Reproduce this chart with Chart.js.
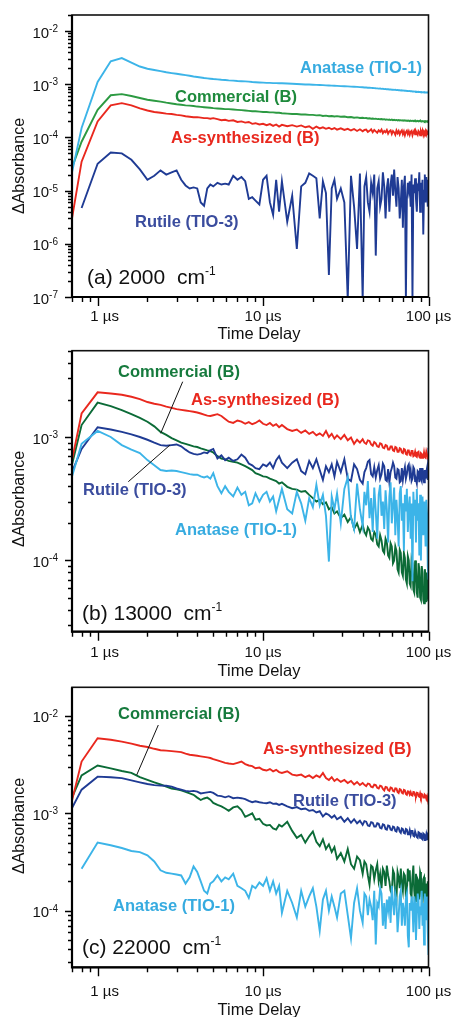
<!DOCTYPE html>
<html>
<head>
<meta charset="utf-8">
<script src="https://cdn.jsdelivr.net/npm/chart.js@4.4.0/dist/chart.umd.min.js"></script>
<style>
  html, body { margin: 0; padding: 0; background: #fff; }
  #wrap { position: relative; width: 454px; height: 1017px; overflow: hidden; }
  canvas { position: absolute; left: 0; }
</style>
</head>
<body>
<div id="wrap">
  <canvas id="panelA" width="454" height="345" style="top:0px"></canvas>
  <canvas id="panelB" width="454" height="340" style="top:340px"></canvas>
  <canvas id="panelC" width="454" height="339" style="top:678px"></canvas>
</div>
<script>
// ==================== DATOS ====================

// tiempo de retardo (µs), compartido por los tres paneles
const timeUs = [
  0.7, 0.8, 1.0, 1.2, 1.4, 1.6, 1.8, 2.0, 2.2, 2.4,
  2.6, 2.8, 3.0, 3.2, 3.4, 3.6, 3.8, 4.0, 4.2, 4.4,
  4.6, 4.8, 5.0, 5.3, 5.6, 5.9, 6.2, 6.6, 7.0, 7.4,
  7.8, 8.2, 8.6, 9.0, 9.5, 10, 10.5, 11, 11.5, 12,
  12.5, 13, 14, 15, 16, 17, 18, 19, 20, 21,
  22, 23, 24, 25, 26, 27, 28, 29.5, 31, 32.5,
  34, 35.5, 37, 38.5, 40, 41, 42, 43, 44, 45,
  46, 47, 48, 49, 50, 51, 52, 53, 54, 55,
  56, 57, 58, 59, 60, 61, 62, 63, 64, 65,
  66, 67, 68, 69, 70, 71, 72, 73, 74, 75,
  76, 77, 78, 79, 80, 81, 82, 83, 84, 85,
  86, 87, 88, 89, 90, 91, 92, 93, 94, 95,
  96, 97, 98, 99, 100
];

const seriesNames = ["Anatase (TIO-1)", "Commercial (B)", "As-synthesized (B)", "Rutile (TIO-3)"];
const xTickValues = [1, 10, 100];
const xTickLabels = ["1 µs", "10 µs", "100 µs"];
const yExpsA = [-2, -3, -4, -5, -6, -7];
const yExpsB = [-3, -4];
const yExpsC = [-2, -3, -4];

// --- (a) 2000 cm-1 ---
const anataseA = [
  2.2e-5, 1.5e-4, 1.1e-3, 2.7e-3, 3.1e-3, 2.55e-3, 2.15e-3, 1.95e-3, 1.85e-3, 1.76e-3,
  1.68e-3, 1.62e-3, 1.57e-3, 1.52e-3, 1.48e-3, 1.44e-3, 1.4e-3, 1.37e-3, 1.34e-3, 1.31e-3,
  1.29e-3, 1.27e-3, 1.25e-3, 1.23e-3, 1.21e-3, 1.2e-3, 1.18e-3, 1.17e-3, 1.15e-3, 1.14e-3,
  1.13e-3, 1.12e-3, 1.1e-3, 1.09e-3, 1.08e-3, 1.07e-3, 1.06e-3, 1.06e-3, 1.05e-3, 1.05e-3,
  1.04e-3, 1.04e-3, 1.03e-3, 1.02e-3, 1.01e-3, 1.0e-3, 9.9e-4, 9.85e-4, 9.8e-4, 9.7e-4,
  9.65e-4, 9.6e-4, 9.5e-4, 9.45e-4, 9.4e-4, 9.35e-4, 9.3e-4, 9.2e-4, 9.15e-4, 9.1e-4,
  9.0e-4, 8.95e-4, 8.9e-4, 8.8e-4, 8.75e-4, 8.7e-4, 8.68e-4, 8.6e-4, 8.62e-4, 8.52e-4,
  8.48e-4, 8.44e-4, 8.38e-4, 8.36e-4, 8.26e-4, 8.28e-4, 8.18e-4, 8.2e-4, 8.08e-4, 8.12e-4,
  8.02e-4, 8.04e-4, 7.95e-4, 7.98e-4, 7.88e-4, 7.92e-4, 7.82e-4, 7.86e-4, 7.76e-4, 7.8e-4,
  7.7e-4, 7.74e-4, 7.64e-4, 7.68e-4, 7.58e-4, 7.62e-4, 7.52e-4, 7.56e-4, 7.46e-4, 7.5e-4,
  7.42e-4, 7.45e-4, 7.36e-4, 7.4e-4, 7.3e-4, 7.34e-4, 7.25e-4, 7.28e-4, 7.2e-4, 7.24e-4,
  7.16e-4, 7.2e-4, 7.12e-4, 7.15e-4, 7.08e-4, 7.11e-4, 7.04e-4, 7.08e-4, 7.0e-4, 7.04e-4,
  6.98e-4, 7.02e-4, 6.96e-4, 7.0e-4, 6.95e-4
];
const commercialA = [
  2.7e-5, 8.3e-5, 3.3e-4, 6.2e-4, 6.5e-4, 6.0e-4, 5.5e-4, 5.1e-4, 4.9e-4, 4.7e-4,
  4.5e-4, 4.35e-4, 4.2e-4, 4.1e-4, 4.0e-4, 3.95e-4, 3.9e-4, 3.8e-4, 3.75e-4, 3.7e-4,
  3.65e-4, 3.6e-4, 3.55e-4, 3.5e-4, 3.45e-4, 3.4e-4, 3.4e-4, 3.35e-4, 3.3e-4, 3.25e-4,
  3.2e-4, 3.15e-4, 3.1e-4, 3.1e-4, 3.05e-4, 3.0e-4, 3.0e-4, 2.95e-4, 2.95e-4, 2.9e-4,
  2.9e-4, 2.85e-4, 2.8e-4, 2.75e-4, 2.75e-4, 2.7e-4, 2.7e-4, 2.65e-4, 2.65e-4, 2.6e-4,
  2.62e-4, 2.53e-4, 2.57e-4, 2.5e-4, 2.52e-4, 2.47e-4, 2.51e-4, 2.44e-4, 2.47e-4, 2.4e-4,
  2.42e-4, 2.35e-4, 2.38e-4, 2.32e-4, 2.34e-4, 2.3e-4, 2.31e-4, 2.27e-4, 2.29e-4, 2.25e-4,
  2.27e-4, 2.23e-4, 2.25e-4, 2.21e-4, 2.23e-4, 2.19e-4, 2.21e-4, 2.17e-4, 2.2e-4, 2.15e-4,
  2.18e-4, 2.14e-4, 2.17e-4, 2.12e-4, 2.16e-4, 2.11e-4, 2.14e-4, 2.1e-4, 2.13e-4, 2.09e-4,
  2.12e-4, 2.08e-4, 2.11e-4, 2.07e-4, 2.1e-4, 2.06e-4, 2.09e-4, 2.05e-4, 2.08e-4, 2.04e-4,
  2.08e-4, 2.03e-4, 2.07e-4, 2.03e-4, 2.06e-4, 2.02e-4, 2.06e-4, 2.01e-4, 2.05e-4, 2.01e-4,
  2.05e-4, 2.0e-4, 2.04e-4, 2.0e-4, 2.04e-4, 1.99e-4, 2.03e-4, 1.99e-4, 2.03e-4, 1.98e-4,
  2.03e-4, 1.99e-4, 2.02e-4, 1.98e-4, 2.02e-4
];
const asSynthA = [
  3.0e-6, 3.5e-5, 2.0e-4, 4.0e-4, 4.4e-4, 4.0e-4, 3.5e-4, 3.2e-4, 3.0e-4, 2.9e-4,
  2.8e-4, 2.75e-4, 2.65e-4, 2.6e-4, 2.5e-4, 2.45e-4, 2.4e-4, 2.4e-4, 2.35e-4, 2.3e-4,
  2.3e-4, 2.25e-4, 2.3e-4, 2.2e-4, 2.1e-4, 2.15e-4, 2.05e-4, 2.1e-4, 1.95e-4, 2.0e-4,
  1.9e-4, 1.95e-4, 1.8e-4, 1.85e-4, 1.75e-4, 1.8e-4, 1.7e-4, 1.78e-4, 1.65e-4, 1.75e-4,
  1.6e-4, 1.72e-4, 1.62e-4, 1.7e-4, 1.6e-4, 1.68e-4, 1.55e-4, 1.62e-4, 1.45e-4, 1.6e-4,
  1.48e-4, 1.55e-4, 1.45e-4, 1.52e-4, 1.42e-4, 1.5e-4, 1.4e-4, 1.48e-4, 1.38e-4, 1.45e-4,
  1.35e-4, 1.44e-4, 1.32e-4, 1.42e-4, 1.3e-4, 1.38e-4, 1.4e-4, 1.27e-4, 1.33e-4, 1.42e-4,
  1.25e-4, 1.38e-4, 1.3e-4, 1.22e-4, 1.36e-4, 1.28e-4, 1.4e-4, 1.2e-4, 1.32e-4, 1.25e-4,
  1.38e-4, 1.18e-4, 1.3e-4, 1.36e-4, 1.16e-4, 1.32e-4, 1.24e-4, 1.12e-4, 1.35e-4, 1.2e-4,
  1.32e-4, 1.14e-4, 1.28e-4, 1.36e-4, 1.15e-4, 1.3e-4, 1.1e-4, 1.26e-4, 1.34e-4, 1.16e-4,
  1.3e-4, 1.12e-4, 1.28e-4, 1.33e-4, 1.1e-4, 1.25e-4, 1.35e-4, 1.14e-4, 1.3e-4, 1.2e-4,
  1.12e-4, 1.32e-4, 1.26e-4, 1.1e-4, 1.3e-4, 1.18e-4, 1.34e-4, 1.13e-4, 1.28e-4, 1.2e-4,
  1.32e-4, 1.15e-4, 1.3e-4, 1.22e-4, 1.28e-4
];
const rutileA = [
  null, 4.7e-6, 3.2e-5, 5.2e-5, 5.0e-5, 3.8e-5, 2.5e-5, 1.6e-5, 1.9e-5, 2.4e-5,
  2.0e-5, 2.2e-5, 2.4e-5, 1.6e-5, 1.25e-5, 1.1e-5, 1.15e-5, 1.1e-5, 6e-6, 5.2e-6,
  1.1e-5, 1.3e-5, 1.2e-5, 1.4e-5, 1.3e-5, 1.35e-5, 1.3e-5, 1.9e-5, 1.6e-5, 1.8e-5,
  1.5e-5, 7e-6, 7.5e-6, 6.5e-6, 5.5e-6, 1.6e-5, 1.9e-5, 6e-6, 3.5e-6, 1.6e-5,
  4e-6, 1.5e-5, 2.6e-6, 8e-6, 8e-7, 1.2e-5, 1.4e-5, 2.1e-5, 1.9e-5, 1.7e-5,
  3e-6, 1.5e-5, 9e-6, 2.6e-7, 1.1e-5, 1.6e-5, 7e-6, 1.1e-5, 6e-6, 9e-8,
  1.9e-5, 5e-6, 8e-7, 2.1e-5, 9e-8, 1.2e-5, 1.8e-5, 6e-6, 4e-6, 1.4e-5,
  9e-6, 2.0e-5, 6e-7, 1.1e-5, 1.5e-5, 5e-6, 7e-6, 2.2e-5, 1.2e-5, 3e-6,
  1.1e-5, 1.7e-5, 4e-6, 1.3e-5, 2.0e-5, 8e-6, 2.5e-5, 1.0e-5, 5e-6, 1.8e-5,
  1.1e-5, 3e-6, 6e-6, 1.6e-5, 2e-6, 1.2e-5, 1.9e-5, 9e-8, 7e-6, 1.4e-5,
  1.0e-5, 1.5e-5, 5e-6, 2.0e-5, 9e-8, 1.3e-5, 9e-6, 1.7e-5, 7e-6, 4e-6,
  1.2e-5, 1.1e-5, 2.2e-5, 4e-6, 1.4e-5, 8e-6, 1.6e-5, 1.5e-6, 1.0e-5, 2.0e-5,
  6e-6, 1.8e-5, 1.2e-5, 5e-6, 1.6e-5
];

// --- (b) 13000 cm-1 ---
const anataseB = [
  4.8e-4, 8.8e-4, 1.12e-3, 1.0e-3, 8.6e-4, 7.9e-4, 7.4e-4, 6.5e-4, 5.9e-4, 5.4e-4,
  5.3e-4, 5.35e-4, 5.3e-4, 5.2e-4, 5.1e-4, 5.0e-4, 4.95e-4, 4.95e-4, 4.8e-4, 4.7e-4,
  4.8e-4, 4.6e-4, 5.1e-4, 4.0e-4, 3.5e-4, 4.0e-4, 3.6e-4, 3.3e-4, 3.9e-4, 3.4e-4,
  3.6e-4, 2.8e-4, 2.9e-4, 3.5e-4, 3.0e-4, 3.4e-4, 3.6e-4, 3.0e-4, 3.3e-4, 2.5e-4,
  3.1e-4, 3.8e-4, 2.6e-4, 2.4e-4, 3.6e-4, 2.9e-4, 2.1e-4, 3.2e-4, 2.7e-4, 4.1e-4,
  2.8e-4, 3.4e-4, 2.3e-4, 9.8e-5, 3.3e-4, 2.6e-4, 3.5e-4, 2.0e-4, 3.8e-4, 4.7e-4,
  2.2e-4, 1.8e-4, 4.2e-4, 2.6e-4, 1.9e-4, 3.6e-4, 2.8e-4, 4.4e-4, 2.2e-4, 3.2e-4,
  1.7e-4, 3.9e-4, 2.5e-4, 1.5e-4, 3.4e-4, 4.1e-4, 2.3e-4, 3.0e-4, 1.8e-4, 3.7e-4,
  2.6e-4, 1.4e-4, 3.3e-4, 4.3e-4, 2.0e-4, 2.8e-4, 3.9e-4, 1.6e-4, 3.1e-4, 2.2e-4,
  1.3e-4, 3.5e-4, 4.0e-4, 2.1e-4, 2.9e-4, 1.2e-4, 3.4e-4, 2.5e-4, 3.8e-4, 1.7e-4,
  2.7e-4, 3.3e-4, 1.5e-4, 2.9e-4, 6.8e-5, 3.6e-4, 2.3e-4, 3.1e-4, 1.4e-4, 3.8e-4,
  2.1e-4, 2.9e-4, 1.1e-4, 3.4e-4, 1.0e-4, 2.6e-4, 3.3e-4, 1.6e-4, 3.0e-4, 2.2e-4,
  1.3e-4, 3.1e-4, 2.4e-4, 9e-5, 7e-5
];
const commercialB = [
  6.0e-4, 1.25e-3, 1.9e-3, 1.78e-3, 1.65e-3, 1.53e-3, 1.43e-3, 1.33e-3, 1.22e-3, 1.1e-3,
  1.04e-3, 9.8e-4, 9.4e-4, 9.0e-4, 8.8e-4, 8.6e-4, 8.4e-4, 8.3e-4, 8.1e-4, 7.95e-4,
  7.8e-4, 7.7e-4, 7.5e-4, 7.0e-4, 6.7e-4, 6.6e-4, 6.4e-4, 6.3e-4, 6.2e-4, 6.0e-4,
  5.8e-4, 5.6e-4, 5.4e-4, 5.1e-4, 4.95e-4, 4.8e-4, 4.75e-4, 4.6e-4, 4.5e-4, 4.4e-4,
  4.2e-4, 4.3e-4, 3.95e-4, 3.8e-4, 3.75e-4, 3.6e-4, 3.65e-4, 3.4e-4, 3.2e-4, 3.0e-4,
  3.1e-4, 2.85e-4, 2.95e-4, 2.6e-4, 2.7e-4, 2.4e-4, 2.5e-4, 2.2e-4, 2.35e-4, 2.05e-4,
  2.25e-4, 1.8e-4, 2.0e-4, 1.7e-4, 1.95e-4, 1.7e-4, 1.6e-4, 1.85e-4, 1.75e-4, 1.5e-4,
  1.45e-4, 1.7e-4, 1.62e-4, 1.35e-4, 1.3e-4, 1.6e-4, 1.45e-4, 1.2e-4, 1.15e-4, 1.5e-4,
  1.4e-4, 1.1e-4, 1.05e-4, 1.38e-4, 1.3e-4, 9.5e-5, 1.0e-4, 1.3e-4, 1.2e-4, 8.5e-5,
  8e-5, 1.22e-4, 1.15e-4, 8e-5, 7.5e-5, 1.15e-4, 1.05e-4, 7e-5, 6.5e-5, 1.08e-4,
  1.0e-4, 6.5e-5, 6.2e-5, 1.02e-4, 9.5e-5, 5.8e-5, 5.5e-5, 1.0e-4, 8.8e-5, 5.5e-5,
  5e-5, 9.5e-5, 8.5e-5, 5e-5, 4.8e-5, 9e-5, 8e-5, 4.8e-5, 4.5e-5, 8.5e-5,
  7.5e-5, 4.6e-5, 8e-5, 5.5e-5, 4.7e-5
];
const asSynthB = [
  6.5e-4, 1.55e-3, 2.3e-3, 2.25e-3, 2.2e-3, 2.12e-3, 2.03e-3, 1.92e-3, 1.86e-3, 1.82e-3,
  1.76e-3, 1.72e-3, 1.68e-3, 1.66e-3, 1.64e-3, 1.62e-3, 1.6e-3, 1.58e-3, 1.55e-3, 1.52e-3,
  1.49e-3, 1.48e-3, 1.5e-3, 1.53e-3, 1.48e-3, 1.4e-3, 1.33e-3, 1.3e-3, 1.36e-3, 1.33e-3,
  1.28e-3, 1.32e-3, 1.27e-3, 1.3e-3, 1.36e-3, 1.28e-3, 1.25e-3, 1.3e-3, 1.23e-3, 1.27e-3,
  1.2e-3, 1.25e-3, 1.16e-3, 1.12e-3, 1.15e-3, 1.08e-3, 1.13e-3, 1.06e-3, 1.1e-3, 1.03e-3,
  1.07e-3, 1.02e-3, 1.12e-3, 1.0e-3, 1.06e-3, 9.7e-4, 1.03e-3, 9.6e-4, 1.04e-3, 9.4e-4,
  9.9e-4, 8.8e-4, 9.5e-4, 9.0e-4, 9.6e-4, 9.0e-4, 8.8e-4, 9.4e-4, 9.3e-4, 8.7e-4,
  8.5e-4, 9.1e-4, 8.9e-4, 8.4e-4, 8.3e-4, 8.9e-4, 8.8e-4, 8.2e-4, 8.1e-4, 8.6e-4,
  8.5e-4, 7.9e-4, 7.9e-4, 8.4e-4, 8.4e-4, 7.8e-4, 7.7e-4, 8.3e-4, 8.2e-4, 7.6e-4,
  7.6e-4, 8.1e-4, 8.0e-4, 7.5e-4, 7.4e-4, 8.0e-4, 7.9e-4, 7.3e-4, 7.2e-4, 7.8e-4,
  7.8e-4, 7.2e-4, 7.1e-4, 7.7e-4, 7.7e-4, 7.0e-4, 7.1e-4, 7.6e-4, 7.0e-4, 6.9e-4,
  7.5e-4, 7.6e-4, 6.9e-4, 6.8e-4, 7.4e-4, 7.3e-4, 6.8e-4, 6.8e-4, 7.5e-4, 6.9e-4,
  6.8e-4, 7.6e-4, 7.2e-4, 6.9e-4, 7.0e-4
];
const rutileB = [
  5.2e-4, 8.0e-4, 1.2e-3, 1.15e-3, 1.1e-3, 1.05e-3, 1.0e-3, 9.5e-4, 9.0e-4, 8.6e-4,
  8.5e-4, 8.6e-4, 8.7e-4, 8.4e-4, 7.9e-4, 7.5e-4, 7.3e-4, 7.2e-4, 7.3e-4, 7.5e-4,
  7.4e-4, 7.8e-4, 8.0e-4, 6.7e-4, 7.1e-4, 6.5e-4, 6.8e-4, 6.4e-4, 6.6e-4, 7.2e-4,
  6.8e-4, 6.1e-4, 5.9e-4, 5.6e-4, 5.5e-4, 6.0e-4, 5.8e-4, 6.2e-4, 5.6e-4, 6.5e-4,
  7.0e-4, 6.2e-4, 5.6e-4, 6.2e-4, 6.6e-4, 5.3e-4, 5.0e-4, 6.4e-4, 5.6e-4, 6.6e-4,
  5.4e-4, 4.5e-4, 5.8e-4, 5.2e-4, 6.0e-4, 4.8e-4, 6.3e-4, 5.2e-4, 6.6e-4, 4.6e-4,
  4.4e-4, 6.0e-4, 5.5e-4, 4.5e-4, 4.2e-4, 5.2e-4, 5.6e-4, 6.3e-4, 6.5e-4, 5.0e-4,
  4.8e-4, 5.7e-4, 4.7e-4, 5.4e-4, 5.9e-4, 4.6e-4, 5.0e-4, 6.1e-4, 5.8e-4, 4.5e-4,
  4.4e-4, 5.5e-4, 4.3e-4, 5.2e-4, 5.6e-4, 6.2e-4, 5.8e-4, 4.7e-4, 4.6e-4, 5.5e-4,
  5.4e-4, 4.3e-4, 4.4e-4, 5.6e-4, 4.5e-4, 5.2e-4, 5.7e-4, 4.6e-4, 5.0e-4, 5.8e-4,
  6.0e-4, 4.9e-4, 5.4e-4, 4.4e-4, 4.6e-4, 5.7e-4, 5.5e-4, 4.4e-4, 4.5e-4, 4.2e-4,
  5.3e-4, 5.2e-4, 4.3e-4, 5.6e-4, 4.6e-4, 4.4e-4, 5.6e-4, 5.0e-4, 4.3e-4, 5.4e-4,
  4.6e-4, 5.2e-4, 5.6e-4, 4.5e-4, 8.2e-4
];

// --- (c) 22000 cm-1 ---
const anataseC = [
  null, 2.7e-4, 5.0e-4, 4.7e-4, 4.4e-4, 4.1e-4, 4.0e-4, 3.7e-4, 3.2e-4, 2.6e-4,
  2.45e-4, 2.4e-4, 2.35e-4, 2.3e-4, 1.9e-4, 2.2e-4, 2.85e-4, 2.5e-4, 2.0e-4, 1.6e-4,
  1.5e-4, 1.9e-4, 2.0e-4, 2.3e-4, 2.0e-4, 2.2e-4, 2.1e-4, 2.4e-4, 1.8e-4, 1.7e-4,
  1.6e-4, 1.35e-4, 1.8e-4, 1.7e-4, 1.95e-4, 1.8e-4, 2.15e-4, 1.6e-4, 2.0e-4, 1.5e-4,
  1.8e-4, 9.5e-5, 1.6e-4, 1.2e-4, 8.5e-5, 1.6e-4, 1.1e-4, 1.4e-4, 1.7e-4, 1.1e-4,
  6.2e-5, 1.3e-4, 1.6e-4, 1.0e-4, 1.4e-4, 1.1e-4, 8.5e-5, 1.5e-4, 1.6e-4, 9e-5,
  5.2e-5, 1.2e-4, 1.7e-4, 1.0e-4, 7.5e-5, 1.5e-4, 1.4e-4, 9e-5, 1.3e-4, 1.1e-4,
  8e-5, 1.6e-4, 4.5e-5, 1.2e-4, 1.1e-4, 1.7e-4, 1.5e-4, 7e-5, 1.2e-4, 6.5e-5,
  1.3e-4, 1.0e-4, 1.4e-4, 7.5e-5, 1.8e-4, 1.2e-4, 9e-5, 1.5e-4, 1.3e-4, 6e-5,
  8.8e-5, 1.4e-4, 1.6e-4, 7e-5, 1.2e-4, 1.0e-4, 7e-5, 1.35e-4, 1.5e-4, 5.5e-5,
  4.2e-5, 1.2e-4, 1.0e-4, 1.4e-4, 1.1e-4, 6e-5, 1.4e-4, 1.2e-4, 5e-5, 9e-5,
  1.5e-4, 1.3e-4, 6.5e-5, 1.1e-4, 9e-5, 1.6e-4, 7e-5, 1.2e-4, 4.5e-5, 1.5e-4,
  1.2e-4, 8e-5, 1.4e-4, 6e-5, 3.5e-5
];
const commercialC = [
  1.45e-3, 2.45e-3, 3.1e-3, 2.9e-3, 2.72e-3, 2.6e-3, 2.35e-3, 2.2e-3, 2.08e-3, 1.98e-3,
  1.88e-3, 1.8e-3, 1.76e-3, 1.72e-3, 1.66e-3, 1.6e-3, 1.55e-3, 1.45e-3, 1.37e-3, 1.42e-3,
  1.45e-3, 1.38e-3, 1.28e-3, 1.22e-3, 1.18e-3, 1.12e-3, 1.06e-3, 1.15e-3, 1.18e-3, 1.08e-3,
  9.2e-4, 9.6e-4, 1.0e-3, 8.6e-4, 8.8e-4, 7.8e-4, 7.5e-4, 7.6e-4, 7.0e-4, 6.8e-4,
  7.6e-4, 7.3e-4, 8.2e-4, 6.6e-4, 5.6e-4, 6.0e-4, 5.0e-4, 5.8e-4, 6.5e-4, 5.1e-4,
  4.6e-4, 5.4e-4, 4.3e-4, 4.8e-4, 4.0e-4, 4.5e-4, 3.4e-4, 3.9e-4, 3.2e-4, 4.3e-4,
  3.0e-4, 2.7e-4, 3.6e-4, 3.3e-4, 2.4e-4, 3.2e-4, 3.0e-4, 2.3e-4, 1.85e-4, 2.9e-4,
  2.8e-4, 2.1e-4, 2.6e-4, 3.0e-4, 2.0e-4, 2.4e-4, 1.7e-4, 2.7e-4, 2.5e-4, 1.8e-4,
  2.9e-4, 2.3e-4, 2.0e-4, 1.6e-4, 1.5e-4, 2.6e-4, 2.4e-4, 1.45e-4, 1.3e-4, 2.5e-4,
  2.2e-4, 1.7e-4, 2.7e-4, 1.9e-4, 1.6e-4, 2.4e-4, 2.3e-4, 1.4e-4, 1.6e-4, 2.7e-4,
  2.0e-4, 2.6e-4, 1.5e-4, 1.4e-4, 2.2e-4, 2.9e-4, 1.6e-4, 1.25e-4, 2.4e-4, 1.25e-4,
  2.1e-4, 2.0e-4, 1.3e-4, 2.5e-4, 2.3e-4, 1.4e-4, 1.3e-4, 2.1e-4, 2.2e-4, 1.2e-4,
  1.6e-4, 1.9e-4, 1.1e-4, 2.0e-4, 1.5e-4
];
const asSynthC = [
  1.35e-3, 3.4e-3, 5.9e-3, 5.7e-3, 5.45e-3, 5.2e-3, 4.95e-3, 4.8e-3, 4.6e-3, 4.45e-3,
  4.4e-3, 4.35e-3, 4.3e-3, 4.25e-3, 4.1e-3, 4.0e-3, 3.95e-3, 3.9e-3, 3.85e-3, 3.8e-3,
  3.75e-3, 3.7e-3, 3.6e-3, 3.5e-3, 3.4e-3, 3.3e-3, 3.25e-3, 3.2e-3, 3.3e-3, 3.4e-3,
  3.2e-3, 3.1e-3, 3.05e-3, 2.9e-3, 2.95e-3, 2.8e-3, 2.75e-3, 2.85e-3, 2.7e-3, 2.8e-3,
  2.65e-3, 2.6e-3, 2.7e-3, 2.5e-3, 2.45e-3, 2.5e-3, 2.35e-3, 2.45e-3, 2.3e-3, 2.45e-3,
  2.35e-3, 2.6e-3, 2.3e-3, 2.2e-3, 2.35e-3, 2.15e-3, 2.25e-3, 2.1e-3, 2.2e-3, 2.05e-3,
  2.15e-3, 1.98e-3, 2.1e-3, 1.95e-3, 2.05e-3, 1.96e-3, 1.9e-3, 2.02e-3, 2.0e-3, 1.88e-3,
  1.85e-3, 1.97e-3, 1.95e-3, 1.83e-3, 1.8e-3, 1.92e-3, 1.9e-3, 1.78e-3, 1.72e-3, 1.87e-3,
  1.85e-3, 1.73e-3, 1.7e-3, 1.84e-3, 1.82e-3, 1.7e-3, 1.68e-3, 1.81e-3, 1.8e-3, 1.66e-3,
  1.62e-3, 1.77e-3, 1.75e-3, 1.63e-3, 1.6e-3, 1.74e-3, 1.72e-3, 1.58e-3, 1.55e-3, 1.68e-3,
  1.67e-3, 1.56e-3, 1.65e-3, 1.54e-3, 1.52e-3, 1.66e-3, 1.65e-3, 1.52e-3, 1.5e-3, 1.63e-3,
  1.62e-3, 1.5e-3, 1.48e-3, 1.6e-3, 1.48e-3, 1.58e-3, 1.56e-3, 1.45e-3, 1.45e-3, 1.55e-3,
  1.52e-3, 1.42e-3, 1.5e-3, 1.38e-3, 1.4e-3
];
const rutileC = [
  1.13e-3, 1.75e-3, 2.38e-3, 2.35e-3, 2.3e-3, 2.18e-3, 2.08e-3, 2.0e-3, 1.95e-3, 1.93e-3,
  1.92e-3, 1.88e-3, 1.8e-3, 1.75e-3, 1.7e-3, 1.68e-3, 1.7e-3, 1.67e-3, 1.6e-3, 1.62e-3,
  1.64e-3, 1.66e-3, 1.62e-3, 1.52e-3, 1.5e-3, 1.46e-3, 1.5e-3, 1.43e-3, 1.45e-3, 1.43e-3,
  1.4e-3, 1.34e-3, 1.3e-3, 1.33e-3, 1.3e-3, 1.28e-3, 1.27e-3, 1.3e-3, 1.25e-3, 1.26e-3,
  1.22e-3, 1.25e-3, 1.18e-3, 1.13e-3, 1.16e-3, 1.1e-3, 1.12e-3, 1.06e-3, 1.08e-3, 1.02e-3,
  1.05e-3, 9.3e-4, 1.0e-3, 9.6e-4, 9.0e-4, 9.5e-4, 8.7e-4, 9.2e-4, 8.2e-4, 8.9e-4,
  8.0e-4, 8.7e-4, 7.9e-4, 8.4e-4, 7.6e-4, 8.3e-4, 8.2e-4, 7.5e-4, 7.4e-4, 8.1e-4,
  8.0e-4, 7.3e-4, 7.3e-4, 7.9e-4, 7.8e-4, 7.1e-4, 7.0e-4, 7.7e-4, 7.6e-4, 6.9e-4,
  6.8e-4, 7.5e-4, 7.4e-4, 6.8e-4, 6.7e-4, 7.3e-4, 7.2e-4, 6.6e-4, 6.5e-4, 7.2e-4,
  7.1e-4, 6.5e-4, 6.3e-4, 7.0e-4, 6.9e-4, 6.3e-4, 6.2e-4, 6.9e-4, 6.8e-4, 6.1e-4,
  6.1e-4, 6.7e-4, 6.0e-4, 6.6e-4, 6.6e-4, 5.9e-4, 5.8e-4, 6.5e-4, 6.5e-4, 5.7e-4,
  5.6e-4, 6.4e-4, 6.3e-4, 5.6e-4, 6.3e-4, 5.5e-4, 5.4e-4, 6.2e-4, 6.1e-4, 5.3e-4,
  5.3e-4, 6.0e-4, 5.4e-4, 6.0e-4, 5.8e-4
];

// ==================== ESTILO ====================

const FONT = '"Liberation Sans", Arial, Helvetica, sans-serif';
const C_ANA = "#3cb4e8", C_ANA_TXT = "#36abe0";
const C_RED = "#e9281e";
const C_NAVY = "#1f3b94", C_NAVY_TXT = "#3a4c9e";
const C_GRN_A = "#2c9a42", C_GRN_A_TXT = "#1e8a3c";
const C_GRN = "#0b6b37", C_GRN_TXT = "#167a3d";

function pares(vals) {
  return timeUs.map((t, i) => ({ x: t, y: vals[i] }));
}

function textoSup(ctx, base, sup, x, yc, size, supSize) {
  // texto con superíndice, x = borde izquierdo, yc = centro vertical
  ctx.textAlign = "left";
  ctx.textBaseline = "alphabetic";
  ctx.font = size + "px " + FONT;
  const yb = yc + size * 0.36;
  ctx.fillText(base, x, yb);
  const w = ctx.measureText(base).width;
  ctx.font = supSize + "px " + FONT;
  ctx.fillText(sup, x + w, yb - size * 0.42);
}

// ==================== PLUGIN: ejes, marco y rótulos ====================

const decoPlugin = {
  id: "deco",
  afterDraw(chart, args, o) {
    const ctx = chart.ctx;
    const xs = chart.scales.x, ys = chart.scales.y, a = chart.chartArea;
    const off = o.top;
    ctx.save();

    // marcas del eje Y (mayores y menores)
    ctx.strokeStyle = "#000";
    ctx.lineWidth = 1.4;
    ctx.beginPath();
    for (let e = -8; e <= -1; e++) {
      for (let m = 1; m <= 9; m++) {
        const v = m * Math.pow(10, e);
        if (v < ys.min * 0.999 || v > ys.max * 1.001) continue;
        const py = Math.round(ys.getPixelForValue(v)) + 0.5;
        const len = m === 1 ? 7 : 4;
        ctx.moveTo(a.left - len, py);
        ctx.lineTo(a.left, py);
      }
    }
    // marcas del eje X
    for (let e = -1; e <= 2; e++) {
      for (let m = 1; m <= 9; m++) {
        const v = m * Math.pow(10, e);
        if (v < xs.min * 0.999 || v > xs.max * 1.001) continue;
        const px = Math.round(xs.getPixelForValue(v)) + 0.5;
        const len = m === 1 ? 9 : 5;
        ctx.moveTo(px, a.bottom);
        ctx.lineTo(px, a.bottom + len);
      }
    }
    ctx.stroke();

    // marco
    ctx.lineWidth = 1.6;
    ctx.strokeStyle = "#111";
    ctx.strokeRect(a.left, a.top, a.right - a.left, a.bottom - a.top);
    ctx.lineWidth = 2.2;
    ctx.strokeStyle = "#000";
    ctx.beginPath();
    ctx.moveTo(a.left, a.top);
    ctx.lineTo(a.left, a.bottom);
    ctx.lineTo(a.right, a.bottom);
    ctx.stroke();

    // etiquetas del eje Y: 10^n
    ctx.fillStyle = "#111";
    for (const e of o.yExps) {
      const py = ys.getPixelForValue(Math.pow(10, e));
      ctx.font = "10px " + FONT;
      const sw = ctx.measureText(String(e)).width;
      ctx.textAlign = "left";
      ctx.textBaseline = "alphabetic";
      ctx.fillText(String(e), 58 - sw, py + 1);
      ctx.font = "15px " + FONT;
      ctx.textAlign = "right";
      ctx.fillText("10", 58 - sw, py + 6.5);
    }

    // etiquetas del eje X
    ctx.font = "15px " + FONT;
    ctx.textAlign = "center";
    ctx.textBaseline = "middle";
    xTickValues.forEach((v, i) => {
      const nudge = i === 0 ? 7 : 0;
      ctx.fillText(xTickLabels[i], xs.getPixelForValue(v) + nudge, a.bottom + o.xLabelDy);
    });

    // títulos de ejes
    ctx.font = "16.5px " + FONT;
    ctx.fillText("Time Delay", 259, o.titleY - off);
    ctx.save();
    ctx.translate(20, o.yTitleY - off);
    ctx.rotate(-Math.PI / 2);
    ctx.font = "16px " + FONT;
    ctx.fillText("\u0394Absorbance", 0, 0);
    ctx.restore();

    // líneas guía
    ctx.strokeStyle = "#111";
    ctx.lineWidth = 1;
    ctx.beginPath();
    for (const l of o.leaders) {
      ctx.moveTo(l[0], l[1] - off);
      ctx.lineTo(l[2], l[3] - off);
    }
    ctx.stroke();

    // nombres de las series
    ctx.font = "bold 16.5px " + FONT;
    ctx.textAlign = "left";
    ctx.textBaseline = "middle";
    for (const t of o.tags) {
      ctx.fillStyle = t.color;
      ctx.fillText(t.text, t.x, t.y - off);
    }

    // rótulo del panel
    ctx.fillStyle = "#111";
    textoSup(ctx, o.panel.text, "-1", o.panel.x, o.panel.y - off, 21, 12);

    ctx.restore();
  }
};

function crearPanel(id, opts) {
  return new Chart(document.getElementById(id), {
    type: "line",
    data: {
      datasets: opts.series.map((s) => ({
        label: s.name,
        data: pares(s.values),
        borderColor: s.color,
        borderWidth: 1.9,
        pointRadius: 0,
        tension: 0,
        fill: false,
        spanGaps: false,
      })),
    },
    options: {
      responsive: false,
      animation: false,
      events: [],
      layout: { padding: opts.padding },
      plugins: {
        legend: { display: false },
        tooltip: { enabled: false },
        deco: opts.deco,
      },
      scales: {
        x: { type: "logarithmic", min: 0.7, max: 100, display: false },
        y: { type: "logarithmic", min: opts.yMin, max: opts.yMax, display: false },
      },
    },
    plugins: [decoPlugin],
  });
}

// ==================== INICIALIZACIÓN ====================

crearPanel("panelA", {
  padding: { left: 72, right: 25.5, top: 15, bottom: 48 },
  yMin: 1e-7, yMax: 2e-2,
  series: [
    { name: seriesNames[0], values: anataseA, color: C_ANA },
    { name: seriesNames[1], values: commercialA, color: C_GRN_A },
    { name: seriesNames[2], values: asSynthA, color: C_RED },
    { name: seriesNames[3], values: rutileA, color: C_NAVY },
  ],
  deco: {
    top: 0, yExps: yExpsA, xLabelDy: 20, titleY: 334, yTitleY: 166,
    leaders: [],
    tags: [
      { text: seriesNames[0], color: C_ANA_TXT, x: 300, y: 68 },
      { text: seriesNames[1], color: C_GRN_A_TXT, x: 175, y: 97 },
      { text: seriesNames[2], color: C_RED, x: 171, y: 138 },
      { text: seriesNames[3], color: C_NAVY_TXT, x: 135, y: 222 },
    ],
    panel: { text: "(a) 2000  cm", x: 87, y: 276 },
  },
});

crearPanel("panelB", {
  padding: { left: 72, right: 25.5, top: 10.7, bottom: 48.3 },
  yMin: 2.65e-5, yMax: 5e-3,
  series: [
    { name: seriesNames[0], values: anataseB, color: C_ANA },
    { name: seriesNames[2], values: asSynthB, color: C_RED },
    { name: seriesNames[3], values: rutileB, color: C_NAVY },
    { name: seriesNames[1], values: commercialB, color: C_GRN },
  ],
  deco: {
    top: 340, yExps: yExpsB, xLabelDy: 21.6, titleY: 671, yTitleY: 499,
    leaders: [[182.7, 381.7, 160.7, 433.3], [128.3, 481.7, 170, 445]],
    tags: [
      { text: seriesNames[1], color: C_GRN_TXT, x: 118, y: 372.7 },
      { text: seriesNames[2], color: C_RED, x: 191, y: 400 },
      { text: seriesNames[3], color: C_NAVY_TXT, x: 83, y: 490.7 },
      { text: seriesNames[0], color: C_ANA_TXT, x: 175, y: 530 },
    ],
    panel: { text: "(b) 13000  cm", x: 82, y: 612.7 },
  },
});

crearPanel("panelC", {
  padding: { left: 72, right: 25.5, top: 9.3, bottom: 49.7 },
  yMin: 2.62e-5, yMax: 1.97e-2,
  series: [
    { name: seriesNames[0], values: anataseC, color: C_ANA },
    { name: seriesNames[2], values: asSynthC, color: C_RED },
    { name: seriesNames[3], values: rutileC, color: C_NAVY },
    { name: seriesNames[1], values: commercialC, color: C_GRN },
  ],
  deco: {
    top: 678, yExps: yExpsC, xLabelDy: 24.4, titleY: 1010, yTitleY: 826,
    leaders: [[158.3, 725, 136.7, 775]],
    tags: [
      { text: seriesNames[1], color: C_GRN_TXT, x: 118, y: 714 },
      { text: seriesNames[2], color: C_RED, x: 263, y: 749.3 },
      { text: seriesNames[3], color: C_NAVY_TXT, x: 293, y: 801.7 },
      { text: seriesNames[0], color: C_ANA_TXT, x: 113, y: 906 },
    ],
    panel: { text: "(c) 22000  cm", x: 82, y: 946.7 },
  },
});
</script>
</body>
</html>
